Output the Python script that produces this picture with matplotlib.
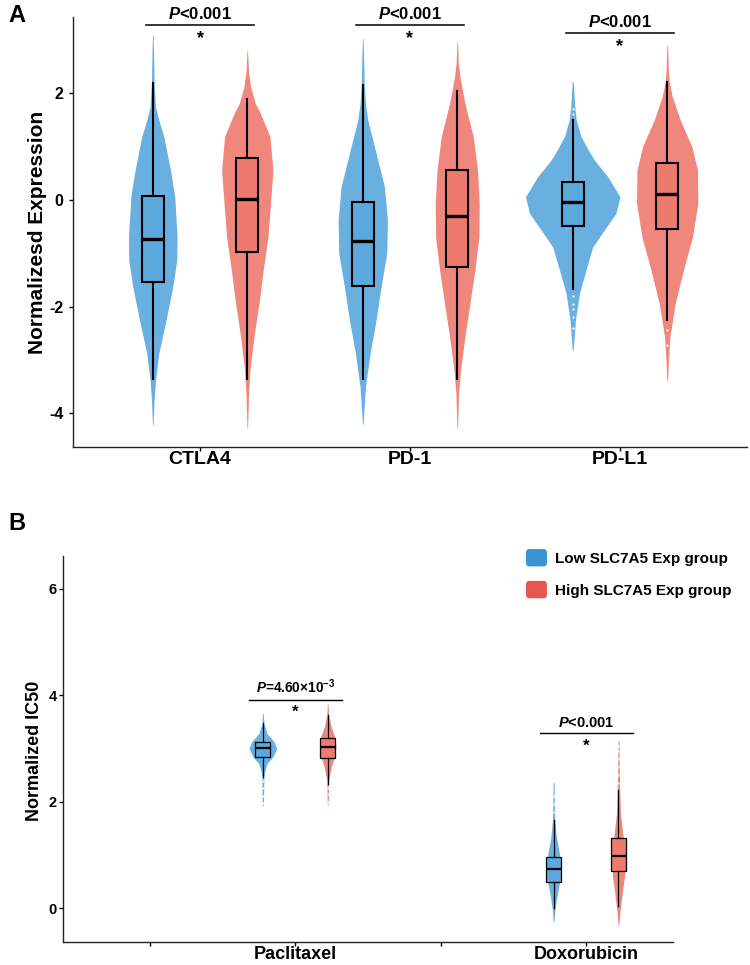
import numpy as np
import matplotlib
matplotlib.use('Agg')
from matplotlib import pyplot as plt
from matplotlib.patches import FancyBboxPatch, Patch
from matplotlib.legend_handler import HandlerPatch

plt.rcParams['font.family'] = 'Liberation Sans'
plt.rcParams['font.weight'] = 'bold'
plt.rcParams['axes.labelweight'] = 'bold'
plt.rcParams['axes.unicode_minus'] = False
plt.rcParams['mathtext.fontset'] = 'custom'
plt.rcParams['mathtext.it'] = 'Liberation Sans:bold:italic'
plt.rcParams['mathtext.rm'] = 'Liberation Sans:bold'
plt.rcParams['mathtext.bf'] = 'Liberation Sans:bold'

# ---- panel A: immune checkpoint expression ----
a_cats = ['CTLA4', 'PD-1', 'PD-L1']
a_pvals = [r'$P$<0.001', r'$P$<0.001', r'$P$<0.001']
a_bracket = [3.28, 3.28, 3.13]

# violin outlines: value, relative half width
ctla4_low_v = [3.09, 2.6, 2.2, 1.75, 1.5, 1.19, 0.88, 0.56, 0.06, -0.69, -1.13, -1.63, -2.25, -2.88, -3.38, -3.75, -4.22]
ctla4_low_w = [0.3, 1.0, 1.3, 2.7, 6.0, 11.0, 14.3, 17.7, 22.0, 24.3, 24.0, 20.0, 13.3, 6.0, 2.7, 1.3, 0.3]
ctla4_high_v = [2.80, 2.4, 2.13, 1.81, 1.63, 1.19, 0.56, -0.06, -0.69, -1.31, -1.94, -2.56, -3.19, -3.63, -4.27]
ctla4_high_w = [0.3, 1.3, 3.3, 8.0, 13.0, 22.7, 25.7, 23.3, 20.7, 16.0, 11.7, 6.7, 2.7, 1.3, 0.3]
pd1_low_v = [3.03, 2.6, 2.16, 1.81, 1.5, 0.88, 0.25, -0.38, -1.0, -1.63, -2.25, -2.88, -3.5, -4.2]
pd1_low_w = [0.3, 1.0, 1.5, 2.7, 5.0, 13.3, 21.7, 24.7, 24.0, 18.3, 13.3, 7.3, 2.7, 0.3]
pd1_high_v = [2.97, 2.6, 2.31, 1.81, 1.19, 0.56, -0.06, -0.69, -1.31, -1.94, -2.56, -3.19, -3.63, -4.28]
pd1_high_w = [0.3, 1.0, 2.7, 7.7, 16.0, 20.3, 22.0, 21.7, 17.7, 12.7, 7.7, 3.3, 1.3, 0.3]
pdl1_low_v = [2.22, 1.75, 1.5, 1.19, 0.9, 0.75, 0.6, 0.44, 0.06, -0.25, -0.56, -0.88, -1.31, -1.75, -2.25, -2.81]
pdl1_low_w = [0.5, 2.0, 3.5, 8.3, 16.7, 21.7, 28.0, 35.0, 47.3, 43.3, 31.7, 20.0, 13.3, 6.7, 2.7, 0.5]
pdl1_high_v = [2.89, 2.4, 2.22, 1.94, 1.5, 1.0, 0.56, -0.06, -0.69, -1.31, -1.94, -2.56, -3.0, -3.38]
pdl1_high_w = [0.4, 1.2, 2.0, 5.0, 13.0, 24.7, 30.3, 30.7, 25.3, 16.3, 8.0, 2.7, 1.2, 0.4]

# box stats: whisker low, q1, median, q3, whisker high
a_box_low = [[-3.36, -1.53, -0.74, 0.075, 2.19],
             [-3.36, -1.61, -0.76, -0.03, 2.16],
             [-1.66, -0.48, -0.04, 0.33, 1.50]]
a_box_high = [[-3.36, -0.98, 0.01, 0.78, 1.89],
              [-3.36, -1.26, -0.30, 0.56, 2.05],
              [-2.25, -0.54, 0.11, 0.70, 2.22]]
a_out_low = [[], [], [1.62, 1.70, -1.80, -1.95, -2.05, -2.20, -2.40]]
a_out_high = [[], [], [-2.44, -2.72]]

# ---- panel B: drug sensitivity ----
b_cats = ['', 'Paclitaxel', '', 'Doxorubicin']
b_drug_pos = [2, 4]
b_pvals = [r'$P$=4.60×10$^{-3}$', r'$P$<0.001']
b_bracket = [3.91, 3.28]

pac_low_v = [3.66, 3.47, 3.28, 3.13, 3.0, 2.84, 2.72, 2.6, 2.47, 2.2, 1.92]
pac_low_w = [0.3, 1.0, 4.0, 11.0, 14.0, 10.0, 4.3, 2.2, 1.0, 0.8, 0.5]
pac_high_v = [3.83, 3.63, 3.41, 3.22, 3.03, 2.84, 2.66, 2.41, 2.2, 1.94]
pac_high_w = [0.3, 1.0, 3.3, 7.0, 8.3, 6.7, 3.7, 1.0, 0.8, 0.5]
dox_low_v = [2.36, 1.9, 1.66, 1.34, 1.03, 0.75, 0.47, 0.16, -0.05, -0.25]
dox_low_w = [0.5, 0.8, 1.2, 2.7, 5.7, 7.3, 5.7, 2.7, 1.2, 0.4]
dox_high_v = [3.14, 2.6, 2.22, 1.78, 1.34, 0.97, 0.59, 0.22, -0.03, -0.31]
dox_high_w = [0.5, 0.8, 1.2, 2.0, 4.7, 6.7, 6.0, 3.3, 1.7, 0.4]

b_box_low = [[2.47, 2.84, 3.00, 3.11, 3.47],
             [0.00, 0.50, 0.74, 0.96, 1.66]]
b_box_high = [[2.34, 2.81, 3.03, 3.20, 3.63],
              [0.04, 0.69, 0.98, 1.31, 2.22]]
b_out_low = [[2.38, 2.25, 2.10, 1.98], [1.80, 1.95, 2.10]]
b_out_high = [[2.25, 2.15, 2.00], [2.35, 2.50, 2.65, 2.80, 2.95, 3.05]]

groups = ['Low SLC7A5 Exp group', 'High SLC7A5 Exp group']

violin_col = ['#69AFDF', '#EF877D']
box_col = ['#5BA8DD', '#EE7A6E']
legend_col = ['#3A93D1', '#E8574F']


def violin(ax, pos, v, w, scale, colour):
    v = np.asarray(v)
    w = np.asarray(w) * scale
    ax.fill_betweenx(v, pos - w, pos + w, color=colour, lw=0, zorder=2)


def box(ax, pos, s, fl, colour, width, lw, mlw):
    stats = [dict(whislo=s[0], q1=s[1], med=s[2], q3=s[3], whishi=s[4], fliers=fl)]
    ax.bxp(stats, positions=[pos], widths=width, patch_artist=True, showcaps=False,
           manage_ticks=False, zorder=3,
           boxprops=dict(facecolor=colour, edgecolor='black', linewidth=lw),
           medianprops=dict(color='black', linewidth=mlw),
           whiskerprops=dict(color='black', linewidth=lw),
           flierprops=dict(marker='o', markersize=1.6, markerfacecolor='white',
                           markeredgecolor='none'))


def style_axes(ax, tick_fs, tick_pad):
    for s in ['top', 'right']:
        ax.spines[s].set_visible(False)
    for s in ['left', 'bottom']:
        ax.spines[s].set_linewidth(1.0)
        ax.spines[s].set_color('#222222')
    ax.tick_params(axis='y', length=3, width=1, pad=tick_pad, labelsize=tick_fs)
    ax.tick_params(axis='x', length=3, width=1, pad=0)


fig = plt.figure(figsize=(7.5, 9.65), dpi=100)

# ---------- A ----------
ax = fig.add_axes([73 / 750, 1 - 447 / 965, 674 / 750, 430 / 965])
off_a = 0.225
scale_a = 0.225 / 47.3
a_low = [(ctla4_low_v, ctla4_low_w), (pd1_low_v, pd1_low_w), (pdl1_low_v, pdl1_low_w)]
a_high = [(ctla4_high_v, ctla4_high_w), (pd1_high_v, pd1_high_w), (pdl1_high_v, pdl1_high_w)]
for i in range(len(a_cats)):
    x = i + 1
    violin(ax, x - off_a, *a_low[i], scale_a, violin_col[0])
    violin(ax, x + off_a, *a_high[i], scale_a, violin_col[1])
    box(ax, x - off_a, a_box_low[i], a_out_low[i], box_col[0], 0.105, 1.5, 2.4)
    box(ax, x + off_a, a_box_high[i], a_out_high[i], box_col[1], 0.105, 1.5, 2.4)
    ax.plot([x - 0.255, x + 0.255], [a_bracket[i]] * 2, color='black', lw=1.1, clip_on=False)
    ax.annotate(a_pvals[i], (x, a_bracket[i]), xytext=(0, 2.5), textcoords='offset points',
                ha='center', va='bottom', fontsize=12, annotation_clip=False)
    ax.annotate('*', (x, a_bracket[i]), xytext=(0, -3.5), textcoords='offset points',
                ha='center', va='top', fontsize=13, annotation_clip=False)

ax.set_xlim(0.395, 3.605)
ax.set_ylim(-4.63, 3.43)
ax.set_yticks([-4, -2, 0, 2])
ax.set_xticks(range(1, len(a_cats) + 1))
ax.set_xticklabels(a_cats, fontsize=14)
style_axes(ax, 11.5, 4)
ax.set_ylabel('Normalizesd Expression', fontsize=15, fontweight='bold', va='center')
ax.yaxis.set_label_coords(-0.053, 0.5)
fig.text(8 / 750, 1 - 15 / 965, 'A', fontsize=17, fontweight='bold', ha='left', va='center')

# ---------- B ----------
ax = fig.add_axes([63 / 750, 1 - 942.3 / 965, 610 / 750, 386.3 / 965])
off_b = 0.223
scale_b = 0.096 / 14.0
b_low = [(pac_low_v, pac_low_w), (dox_low_v, dox_low_w)]
b_high = [(pac_high_v, pac_high_w), (dox_high_v, dox_high_w)]
for i, x in enumerate(b_drug_pos):
    violin(ax, x - off_b, *b_low[i], scale_b, violin_col[0])
    violin(ax, x + off_b, *b_high[i], scale_b, violin_col[1])
    box(ax, x - off_b, b_box_low[i], b_out_low[i], box_col[0], 0.103, 0.9, 1.6)
    box(ax, x + off_b, b_box_high[i], b_out_high[i], box_col[1], 0.103, 0.9, 1.6)
    ax.plot([x - 0.32, x + 0.32], [b_bracket[i]] * 2, color='black', lw=1.0)
    ax.annotate(b_pvals[i], (x, b_bracket[i]), xytext=(0, 2.5), textcoords='offset points',
                ha='center', va='bottom', fontsize=10.5 if i else 9.8)
    ax.annotate('*', (x, b_bracket[i]), xytext=(0, -3.5), textcoords='offset points',
                ha='center', va='top', fontsize=12)

ax.set_xlim(0.402, 4.598)
ax.set_ylim(-0.64, 6.61)
ax.set_yticks([0, 2, 4, 6])
ax.set_xticks(range(1, len(b_cats) + 1))
ax.set_xticklabels(b_cats, fontsize=13)
style_axes(ax, 10.5, 1.5)
ax.set_ylabel('Normalized IC50', fontsize=13, fontweight='bold', va='center')
ax.yaxis.set_label_coords(-0.047, 0.495)
fig.text(8 / 750, 1 - 523 / 965, 'B', fontsize=17, fontweight='bold', ha='left', va='center')


def round_square(legend, orig_handle, xdescent, ydescent, width, height, fontsize):
    return FancyBboxPatch((-xdescent, -ydescent), width, height,
                          boxstyle='round,pad=0,rounding_size=2.5')


handles = [Patch(facecolor=c, edgecolor='none') for c in legend_col]
ax.legend(handles, groups, handler_map={Patch: HandlerPatch(patch_func=round_square)},
          loc='upper left', bbox_to_anchor=(0.759, 1.018), frameon=False, borderpad=0,
          borderaxespad=0, handlelength=1.37, handleheight=1.37, handletextpad=0.52,
          labelspacing=0.95, fontsize=11)

fig.savefig('out.png', dpi=100)
